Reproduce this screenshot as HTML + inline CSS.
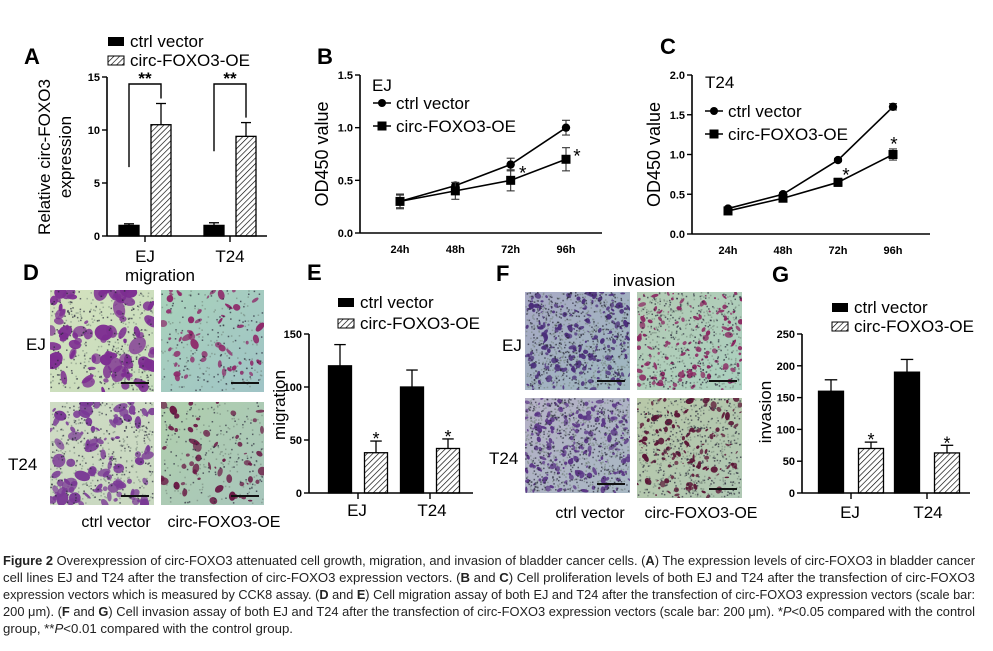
<!DOCTYPE html>
<html><head><meta charset="utf-8">
<style>
html,body{margin:0;padding:0;background:#fff;}
svg{display:block;font-family:"Liberation Sans",Arial,sans-serif;}
.tk{font-weight:bold;font-size:11px;}
.lg{font-size:17px;}
.pl{font-weight:bold;font-size:22px;}
.cap{font-size:12.5px;}
</style></head>
<body>
<svg id="fig" width="993" height="651" viewBox="0 0 993 651" xmlns="http://www.w3.org/2000/svg">
<defs id="defs">
<pattern id="hatch" patternUnits="userSpaceOnUse" width="4" height="4" patternTransform="rotate(45)">
<rect width="4" height="4" fill="#fff"/><line x1="0" y1="0" x2="0" y2="4" stroke="#000" stroke-width="1.3"/>
</pattern>
</defs>
<g id="root"></g>
<g class="cap" fill="#222">
<text x="3" y="565" textLength="972" lengthAdjust="spacingAndGlyphs"><tspan font-weight="bold">Figure 2</tspan> Overexpression of circ-FOXO3 attenuated cell growth, migration, and invasion of bladder cancer cells. (<tspan font-weight="bold">A</tspan>) The expression levels of circ-FOXO3 in bladder cancer</text>
<text x="3" y="582" textLength="972" lengthAdjust="spacingAndGlyphs">cell lines EJ and T24 after the transfection of circ-FOXO3 expression vectors. (<tspan font-weight="bold">B</tspan> and <tspan font-weight="bold">C</tspan>) Cell proliferation levels of both EJ and T24 after the transfection of circ-FOXO3</text>
<text x="3" y="599" textLength="972" lengthAdjust="spacingAndGlyphs">expression vectors which is measured by CCK8 assay. (<tspan font-weight="bold">D</tspan> and <tspan font-weight="bold">E</tspan>) Cell migration assay of both EJ and T24 after the transfection of circ-FOXO3 expression vectors (scale bar:</text>
<text x="3" y="616" textLength="972" lengthAdjust="spacingAndGlyphs">200 μm). (<tspan font-weight="bold">F</tspan> and <tspan font-weight="bold">G</tspan>) Cell invasion assay of both EJ and T24 after the transfection of circ-FOXO3 expression vectors (scale bar: 200 μm). *<tspan font-style="italic">P</tspan>&lt;0.05 compared with the control</text>
<text x="3" y="633" textLength="290" lengthAdjust="spacingAndGlyphs">group, **<tspan font-style="italic">P</tspan>&lt;0.01 compared with the control group.</text>
</g>
</svg>
<script>
// Panel A data
const groupsA = ['EJ','T24'];
const ctrlA = [1.0, 1.0];
const ctrlErrA = [0.15, 0.25];
const oeA = [10.5, 9.4];
const oeErrA = [2.0, 1.3];
const ticksA = [0,5,10,15];
// Panel B data
const timesB = ['24h','48h','72h','96h'];
const ctrlB = [0.30, 0.45, 0.65, 1.00];
const ctrlErrB = [0.06, 0.03, 0.06, 0.07];
const oeB = [0.30, 0.40, 0.50, 0.70];
const oeErrB = [0.07, 0.08, 0.10, 0.11];
const ticksB = [0.0, 0.5, 1.0, 1.5];
// Panel C data
const timesC = ['24h','48h','72h','96h'];
const ctrlC = [0.32, 0.50, 0.93, 1.60];
const ctrlErrC = [0.02, 0.02, 0.02, 0.04];
const oeC = [0.29, 0.45, 0.65, 1.00];
const oeErrC = [0.02, 0.03, 0.05, 0.07];
const ticksC = [0.0, 0.5, 1.0, 1.5, 2.0];
// Panel E data
const groupsE = ['EJ','T24'];
const ctrlE = [120, 100];
const ctrlErrE = [20, 16];
const oeE = [38, 42];
const oeErrE = [11, 9];
const ticksE = [0, 50, 100, 150];
// Panel G data
const groupsG = ['EJ','T24'];
const ctrlG = [160, 190];
const ctrlErrG = [18, 20];
const oeG = [70, 63];
const oeErrG = [10, 12];
const ticksG = [0, 50, 100, 150, 200, 250];

const NS = 'http://www.w3.org/2000/svg';
const root = document.getElementById('root');
const defs = document.getElementById('defs');
function mk(tag, attrs, parent, txt){
  const e = document.createElementNS(NS, tag);
  for (const k in attrs) e.setAttribute(k, attrs[k]);
  if (txt !== undefined) e.textContent = txt;
  (parent || root).appendChild(e);
  return e;
}
function grp(name){
  const g = mk('g', {});
  
  
  return g;
}
function scale(d0, d1, r0, r1){ return v => r0 + (v - d0) * (r1 - r0) / (d1 - d0); }

function yAxis(g, x, y, ticks, fmt){
  mk('line', {x1:x, y1:y(ticks[0]), x2:x, y2:y(ticks[ticks.length-1]), stroke:'#000','stroke-width':1.6}, g);
  ticks.forEach(t => {
    mk('line', {x1:x-5, y1:y(t), x2:x, y2:y(t), stroke:'#000','stroke-width':1.4}, g);
    const tx = mk('text', {x:x-7, y:y(t)+4, 'text-anchor':'end', class:'tk'}, g, fmt(t));
    
    
  });
}
function legendBars(g, x, y1, y2){
  const a = mk('rect', {x:x, y:y1-6, width:16, height:9, fill:'#000'}, g);
  
  
  const t1 = mk('text', {x:x+22, y:y1+4, class:'lg'}, g, 'ctrl vector');
  
  
  const b = mk('rect', {x:x, y:y2-6, width:16, height:9, fill:'url(#hatch)', stroke:'#000','stroke-width':1}, g);
  
  
  const t2 = mk('text', {x:x+22, y:y2+4, class:'lg'}, g, 'circ-FOXO3-OE');
  
  
}
function bar(g, cx, w, v, err, y, hatched, name, star){
  const r = mk('rect', {x:cx-w/2, y:y(v), width:w, height:y(0)-y(v), fill:hatched?'url(#hatch)':'#000', stroke:'#000','stroke-width':1.3}, g);
  
  
  mk('line', {x1:cx, y1:y(v), x2:cx, y2:y(v+err), stroke:'#000','stroke-width':1.3}, g);
  mk('line', {x1:cx-w/4, y1:y(v+err), x2:cx+w/4, y2:y(v+err), stroke:'#000','stroke-width':1.3}, g);
  if (star){
    const s = mk('text', {x:cx, y:y(v+err)+4, 'text-anchor':'middle', 'font-size':'18px'}, g, star);
    
    
  }
}
function barPanel(name, groups, ctrl, ctrlErr, oe, oeErr, ticks, axX, axEnd, y0, yTop, centers, off, w, star){
  const g = grp(name);
  const y = scale(ticks[0], ticks[ticks.length-1], y0, yTop);
  groups.forEach((gn, i) => {
    bar(g, centers[i]-off, w, ctrl[i], ctrlErr[i], y, false, 'bar-ctrl-'+gn.toLowerCase());
    bar(g, centers[i]+off, w, oe[i], oeErr[i], y, true, 'bar-oe-'+gn.toLowerCase(), star);
  });
  yAxis(g, axX, y, ticks, t => String(t));
  mk('line', {x1:axX, y1:y0, x2:axEnd, y2:y0, stroke:'#000','stroke-width':1.6}, g);
  groups.forEach((gn, i) => {
    mk('line', {x1:centers[i], y1:y0, x2:centers[i], y2:y0+6, stroke:'#000','stroke-width':1.4}, g);
  });
  return {g, y};
}

// ---------- Panel A ----------
(function(){
  const pa = barPanel('panel-a-chart', groupsA, ctrlA, ctrlErrA, oeA, oeErrA, ticksA, 107, 267, 236, 77, [145,230], 16, 20, null);
  const g = pa.g, y = pa.y;
  groupsA.forEach((gn,i)=>{
    const t = mk('text', {x:[145,230][i], y:262, 'text-anchor':'middle', 'font-size':'17px'}, g, gn);
    
    
  });
  [[129,161,6.5,8.1],[214,246,8.0,8.4]].forEach((b,i)=>{
    const top = 84;
    const p = mk('polyline', {points:`${b[0]},${y(b[2])} ${b[0]},${top} ${b[1]},${top} ${b[1]},${y(oeA[i]+oeErrA[i])-5}`, fill:'none', stroke:'#000','stroke-width':1.4}, g);
    
    
    const s = mk('text', {x:(b[0]+b[1])/2, y:84, 'text-anchor':'middle', 'font-size':'17px','font-weight':'bold'}, g, '**');
    
    
  });
  legendBars(g, 108, 43, 62);
  const yt = mk('text', {transform:'translate(52,157) rotate(-90)', 'text-anchor':'middle', 'font-size':'17px'}, g);
  
  
  mk('tspan', {x:0, dy:-2}, yt, 'Relative circ-FOXO3');
  mk('tspan', {x:0, dy:21}, yt, 'expression');
  const L = mk('text', {x:24, y:64, class:'pl'}, g, 'A');
  
  
})();

// ---------- Line panels ----------
function linePanel(name, letter, lx, ly, cell, times, ctrl, ctrlErr, oe, oeErr, ticks, axX, axEnd, y0, yTop, xs, cellXY, legXY, stars){
  const g = grp(name);
  const y = scale(ticks[0], ticks[ticks.length-1], y0, yTop);
  const x = i => xs[0] + i*(xs[1]-xs[0])/(times.length-1);
  yAxis(g, axX, y, ticks, t => t.toFixed(1));
  mk('line', {x1:axX, y1:y0, x2:axEnd, y2:y0, stroke:'#000','stroke-width':1.6}, g);
  times.forEach((t,i)=>{
    const tl = mk('text', {x:x(i), y:y0+20, 'text-anchor':'middle', class:'tk'}, g, t);
    
    
  });
  [[ctrl,ctrlErr,'circle','series-ctrl-vector'],[oe,oeErr,'square','series-circ-foxo3-oe']].forEach(s=>{
    const pts = s[0].map((v,i)=>`${x(i)},${y(v)}`).join(' ');
    const pl = mk('polyline', {points:pts, fill:'none', stroke:'#000','stroke-width':1.6}, g);
    
    
    s[0].forEach((v,i)=>{
      const e = s[1][i];
      mk('line', {x1:x(i), y1:y(v-e), x2:x(i), y2:y(v+e), stroke:'#333','stroke-width':1.1}, g);
      mk('line', {x1:x(i)-4, y1:y(v-e), x2:x(i)+4, y2:y(v-e), stroke:'#333','stroke-width':1.1}, g);
      mk('line', {x1:x(i)-4, y1:y(v+e), x2:x(i)+4, y2:y(v+e), stroke:'#333','stroke-width':1.1}, g);
      let m;
      if (s[2]==='circle') m = mk('circle', {cx:x(i), cy:y(v), r:4.2, fill:'#000'}, g);
      else m = mk('rect', {x:x(i)-4.5, y:y(v)-4.5, width:9, height:9, fill:'#000'}, g);
      
      
    });
  });
  stars.forEach(st=>{
    const s = mk('text', {x:x(st[0])+st[1], y:y(oe[st[0]])+st[2], 'text-anchor':'middle', 'font-size':'19px'}, g, '*');
    
    
  });
  const c = mk('text', {x:cellXY[0], y:cellXY[1], 'font-size':'17px'}, g, cell);
  
  
  const [lgx, lgy] = legXY;
  mk('line', {x1:lgx, y1:lgy, x2:lgx+18, y2:lgy, stroke:'#000','stroke-width':1.6}, g);
  mk('circle', {cx:lgx+9, cy:lgy, r:4, fill:'#000'}, g);
  const t1 = mk('text', {x:lgx+23, y:lgy+6, class:'lg'}, g, 'ctrl vector');
  
  
  mk('line', {x1:lgx, y1:lgy+23, x2:lgx+18, y2:lgy+23, stroke:'#000','stroke-width':1.6}, g);
  mk('rect', {x:lgx+4.5, y:lgy+18.5, width:9, height:9, fill:'#000'}, g);
  const t2 = mk('text', {x:lgx+23, y:lgy+29, class:'lg'}, g, 'circ-FOXO3-OE');
  
  
  const yt = mk('text', {transform:`translate(${axX-32},${(y0+yTop)/2}) rotate(-90)`, 'text-anchor':'middle', 'font-size':'18px'}, g, 'OD450 value');
  
  
  const L = mk('text', {x:lx, y:ly, class:'pl'}, g, letter);
  
  
}
linePanel('panel-b-chart','B',317,64,'EJ',timesB,ctrlB,ctrlErrB,oeB,oeErrB,ticksB,360,602,233,75,[400,566],[372,91],[373,103],[[2,12,-1],[3,11,3]]);
linePanel('panel-c-chart','C',660,54,'T24',timesC,ctrlC,ctrlErrC,oeC,oeErrC,ticksC,692,930,234,75,[728,893],[705,88],[705,111],[[2,8,-1],[3,1,-4]]);

// ---------- Bar panels E, G ----------
(function(){
  const pe = barPanel('panel-e-chart', groupsE, ctrlE, ctrlErrE, oeE, oeErrE, ticksE, 309, 473, 493, 334, [358,430], 18, 23, '*');
  groupsE.forEach((gn,i)=>{
    const t = mk('text', {x:[357,432][i], y:516, 'text-anchor':'middle', 'font-size':'17px'}, pe.g, gn);
    
    
  });
  legendBars(pe.g, 338, 304, 325);
  const yt = mk('text', {transform:'translate(285,405) rotate(-90)', 'text-anchor':'middle', 'font-size':'17px'}, pe.g, 'migration');
  
  
  const L = mk('text', {x:307, y:280, class:'pl'}, pe.g, 'E');
  
  

  const pg = barPanel('panel-g-chart', groupsG, ctrlG, ctrlErrG, oeG, oeErrG, ticksG, 802, 970, 493, 334, [851,927], 20, 25, '*');
  groupsG.forEach((gn,i)=>{
    const t = mk('text', {x:[850,928][i], y:518, 'text-anchor':'middle', 'font-size':'17px'}, pg.g, gn);
    
    
  });
  legendBars(pg.g, 832, 309, 328);
  const yt2 = mk('text', {transform:'translate(771,412) rotate(-90)', 'text-anchor':'middle', 'font-size':'17px'}, pg.g, 'invasion');
  
  
  const L2 = mk('text', {x:772, y:282, class:'pl'}, pg.g, 'G');
  
  
})();

// ---------- Microscopy images (decorative texture) ----------
let seed = 7;
function rnd(){ seed = (seed*16807) % 2147483647; return seed/2147483647; }
function micro(name, x, y, w, h, bg, bg2, blob, n, rmin, rmax){
  const g = grp(name);
  const gid = 'gr'+name, cid = 'cp'+name;
  const d = mk('linearGradient', {id:gid, x1:0, y1:0, x2:1, y2:1}, defs);
  mk('stop', {offset:0, 'stop-color':bg}, d);
  mk('stop', {offset:1, 'stop-color':bg2}, d);
  const cp = mk('clipPath', {id:cid}, defs);
  mk('rect', {x:x, y:y, width:w, height:h}, cp);
  const inner = mk('g', {'clip-path':`url(#${cid})`}, g);
  mk('rect', {x:x, y:y, width:w, height:h, fill:`url(#${gid})`}, inner);
  for (let i=0;i<n*3;i++){
    mk('rect', {x:x+rnd()*(w-2), y:y+rnd()*(h-2), width:1.5, height:1.5, fill:'#6a7a70', opacity:0.5}, inner);
  }
  for (let i=0;i<n;i++){
    const cx = x + rnd()*w, cy = y + rnd()*h, r = rmin + rnd()*(rmax-rmin);
    const rx = r*(0.6+rnd()*0.9);
    const ry = r*(0.4+rnd()*0.8);
    mk('ellipse', {cx:cx, cy:cy, rx:rx, ry:ry, fill:blob, opacity:0.7+rnd()*0.3, transform:`rotate(${Math.floor(rnd()*180)} ${cx} ${cy})`}, inner);
  }
  for (let i=0;i<n*2;i++){
    mk('rect', {x:x+rnd()*(w-2), y:y+rnd()*(h-2), width:1.5, height:1.5, fill:'#2a2a3a', opacity:0.7}, inner);
  }
  const sb = mk('line', {x1:x+w-33, y1:y+h-9, x2:x+w-5, y2:y+h-9, stroke:'#111','stroke-width':2}, g);
  
  
}
micro('migration-ej-ctrl-image', 50,290,104,102, '#d4e2bf','#c6dcbc', '#7d2e91', 90, 2, 7);
micro('migration-ej-oe-image', 161,290,103,102, '#a9d2bb','#a0c4c6', '#8e2a6a', 55, 1.5, 4);
micro('migration-t24-ctrl-image', 50,402,104,103, '#cfdcc4','#c8d8c0', '#7a3a95', 100, 2, 6);
micro('migration-t24-oe-image', 161,402,103,103, '#b0cfac','#a8c6bc', '#6a1a45', 55, 1.5, 4.5);
micro('invasion-ej-ctrl-image', 525,292,105,98, '#a7a8c4','#9fb9c0', '#4b2e7a', 200, 1, 3);
micro('invasion-ej-oe-image', 637,292,105,98, '#b4cbb4','#aad0bf', '#8a2560', 130, 1, 3);
micro('invasion-t24-ctrl-image', 525,398,105,95, '#b5b0c6','#a8b8c4', '#5a3585', 200, 1, 3);
micro('invasion-t24-oe-image', 637,398,105,100, '#b8c8a8','#b0c8b4', '#5a1535', 140, 1, 3);

function lbl(name, x, y, txt, anchor, size, cls){
  const t = mk('text', {x:x, y:y, 'text-anchor':anchor||'start', 'font-size':(size||17)+'px'});
  if (cls) t.setAttribute('class', cls);
  t.textContent = txt;
  
  
}
lbl('panel-label-d', 23, 280, 'D', 'start', 22, 'pl');
lbl('panel-label-f', 496, 281, 'F', 'start', 22, 'pl');
lbl('migration-title', 160, 281, 'migration', 'middle', 17);
lbl('invasion-title', 644, 286, 'invasion', 'middle', 17);
lbl('row-label-ej', 26, 350, 'EJ');
lbl('row-label-t24', 8, 470, 'T24');
lbl('row-label-ej', 502, 351, 'EJ');
lbl('row-label-t24', 489, 464, 'T24');
lbl('col-label-ctrl', 116, 527, 'ctrl vector', 'middle', 16);
lbl('col-label-oe', 224, 527, 'circ-FOXO3-OE', 'middle', 16);
lbl('col-label-ctrl', 590, 518, 'ctrl vector', 'middle', 16);
lbl('col-label-oe', 701, 518, 'circ-FOXO3-OE', 'middle', 16);
</script>
</body></html>
